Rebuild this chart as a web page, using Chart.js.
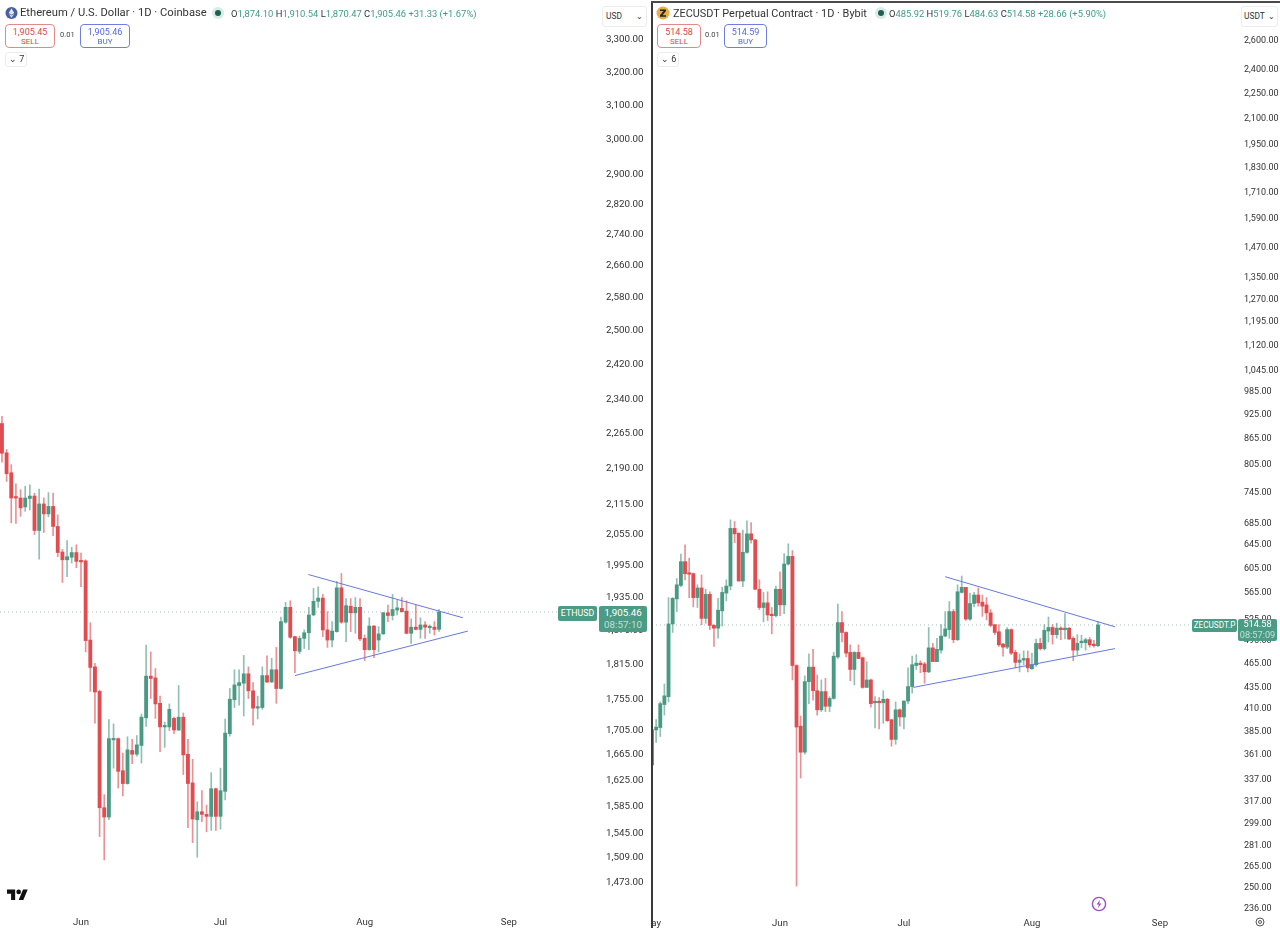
<!DOCTYPE html>
<html><head><meta charset="utf-8">
<script src="https://cdn.jsdelivr.net/npm/chart.js@4"></script>
<style>
html,body{margin:0;padding:0;background:#fff;width:1280px;height:928px;overflow:hidden;font-family:Roboto,Arial,sans-serif;color:#2e2e2e}
body{filter:blur(.35px)}
canvas{position:absolute;top:0}
.t{position:absolute;white-space:nowrap}
.box{position:absolute;box-sizing:border-box;border:1px solid;border-radius:4px;text-align:center;background:#fff}
.box b{display:block;font-weight:400;font-size:9px;line-height:10px;margin-top:2px}
.box i{display:block;font-style:normal;font-size:8px;line-height:9px}
.sell{border-color:#e08a8c;color:#d9474b}.buy{border-color:#6f7fe0;color:#5468dc}
.small{position:absolute;box-sizing:border-box;border:1px solid #ececec;border-radius:3px;font-size:9px;line-height:13px;background:#fff;color:#333}
.ohlc{font-size:9.4px;top:8px;color:#3f9c84}.ohlc span{color:#333}
.ttl{font-size:11.2px;top:6px;color:#333}
.dot{position:absolute;width:6px;height:6px;border-radius:50%;background:#1f5f52;box-shadow:0 0 0 3px #d8ece6}
.lab{position:absolute;background:#4c9b84;color:#fff;text-align:center;font-size:8.8px}
.lab2{position:absolute;background:#4c9b84;color:#fff;text-align:center;font-size:9.8px;line-height:12px;border-radius:2px}
.lab2 em{display:block;font-style:normal;color:#bfe0d6}
.frameV{position:absolute;left:651px;top:1px;width:2px;height:927px;background:#3a3a3a}
.frameH{position:absolute;left:651px;top:1px;width:629px;height:2px;background:#4a4a4a}
</style></head><body>
<canvas id="eth" width="651" height="928" style="left:0;width:651px;height:928px"></canvas>
<canvas id="zec" width="628" height="928" style="left:652px;width:628px;height:928px"></canvas>
<div class="frameV"></div><div class="frameH"></div>

<svg class="t" style="left:5px;top:6px" width="13" height="14" viewBox="0 0 14 14"><circle cx="7" cy="7" r="6.5" fill="#4a5f9e"/><path d="M7 2l3 5-3 1.8L4 7zM4 7.8L7 9.6l3-1.8-3 4.2z" fill="#dfe6f7"/></svg>
<div class="t ttl" style="left:20px">Ethereum / U.S. Dollar · 1D · Coinbase</div>
<div class="dot" style="left:215px;top:10px"></div>
<div class="t ohlc" style="left:231px"><span>O</span>1,874.10 <span>H</span>1,910.54 <span>L</span>1,870.47 <span>C</span>1,905.46 <span style="color:#3f9c84">+31.33 (+1.67%)</span></div>
<div class="box sell" style="left:5px;top:24px;width:50px;height:24px"><b>1,905.45</b><i>SELL</i></div>
<div class="t" style="left:60px;top:30px;font-size:7.5px;color:#444">0.01</div>
<div class="box buy" style="left:80px;top:24px;width:50px;height:24px"><b>1,905.46</b><i>BUY</i></div>
<div class="small" style="left:5px;top:52px;width:22px;height:15px;padding-left:3px">⌄ 7</div>
<div class="small" style="left:602px;top:6px;width:45px;height:21px;line-height:19px;padding-left:3px;font-size:8.4px">USD<span style="float:right;margin-right:3px">⌄</span></div>
<div class="lab" style="left:558px;top:606px;width:39px;height:15px;line-height:15px;border-radius:2px">ETHUSD</div>
<div class="lab2" style="left:599px;top:606px;width:48px;height:26px;padding-top:1px;box-sizing:border-box">1,905.46<em>08:57:10</em></div>
<svg class="t" style="left:7px;top:887px" width="21" height="15" viewBox="0 0 36 25"><path d="M14 22H7V11H0V4h14v18zM28 22h-8l7.5-18h8L28 22z" fill="#111"/><circle cx="20" cy="8" r="4" fill="#111"/></svg>

<svg class="t" style="left:656px;top:6px" width="14" height="14" viewBox="0 0 14 14"><circle cx="7" cy="7" r="6.5" fill="#e5b04a"/><path d="M4 3.5h6v1.4L6.4 9.3H10v1.4H4V9.3l3.6-4.4H4z" fill="#222"/></svg>
<div class="t ttl" style="left:673px;font-size:10.9px;top:7px">ZECUSDT Perpetual Contract · 1D · Bybit</div>
<div class="dot" style="left:878px;top:10px"></div>
<div class="t ohlc" style="left:889px"><span>O</span>485.92 <span>H</span>519.76 <span>L</span>484.63 <span>C</span>514.58 <span style="color:#3f9c84">+28.66 (+5.90%)</span></div>
<div class="box sell" style="left:657px;top:24px;width:44px;height:24px"><b>514.58</b><i>SELL</i></div>
<div class="t" style="left:705px;top:30px;font-size:7.5px;color:#444">0.01</div>
<div class="box buy" style="left:724px;top:24px;width:43px;height:24px"><b>514.59</b><i>BUY</i></div>
<div class="small" style="left:657px;top:52px;width:22px;height:15px;padding-left:3px">⌄ 6</div>
<div class="small" style="left:1241px;top:6px;width:37px;height:21px;line-height:19px;padding-left:2px;font-size:8.4px">USDT<span style="float:right;margin-right:2px">⌄</span></div>
<div class="lab" style="left:1192px;top:619px;width:45px;height:13px;line-height:13px;border-radius:2px;font-size:8.2px">ZECUSDT.P</div>
<div class="lab2" style="left:1238px;top:619px;width:39px;height:22px;font-size:9.2px;line-height:10.5px;box-sizing:border-box">514.58<em>08:57:09</em></div>
<svg class="t" style="left:1091px;top:896px" width="16" height="16" viewBox="0 0 16 16"><circle cx="8" cy="8" r="6.6" fill="none" stroke="#9b4fc4" stroke-width="1.4"/><path d="M9 3.8L5.6 8.6h2.2L7 12.2l3.4-4.8H8.2z" fill="#9b4fc4"/></svg>
<svg class="t" style="left:1255px;top:917px" width="10" height="10" viewBox="0 0 10 10"><circle cx="5" cy="5" r="4" fill="none" stroke="#555"/><circle cx="5" cy="5" r="1.5" fill="none" stroke="#555"/></svg>

<script>
const monthTicks = [-31, 0, 30, 61, 92];
const monthLabels = ['May', 'Jun', 'Jul', 'Aug', 'Sep'];

const ethTicks = [3300,3200,3100,3000,2900,2820,2740,2660,2580,2500,2420,2340,2265,2190,2115,2055,1995,1935,1875,1815,1755,1705,1665,1625,1585,1545,1509,1473];
const zecTicks = [2600,2400,2250,2100,1950,1830,1710,1590,1470,1350,1270,1195,1120,1045,985,925,865,805,745,685,645,605,565,525,495,465,435,410,385,361,337,317,299,281,265,250,236];

const ethOpen = [
2282,2219,2177,2127,2125,2107,2124,2129,2060,2113,
2093,2108,2068,2018,2003,2008,2017,2001,2001,1855,
1808,1766,1580,1566,1686,1688,1637,1617,1669,1663,
1677,1722,1792,1789,1746,1707,1707,1721,1702,1723,
1663,1618,1562,1574,1570,1567,1609,1567,1605,1696,
1752,1776,1780,1796,1767,1738,1739,1793,1782,1803,
1771,1887,1914,1861,1835,1858,1868,1900,1925,1931,
1873,1855,1870,1950,1887,1916,1904,1914,1858,1838,
1880,1855,1866,1904,1899,1909,1912,1907,1867,1878,
1874,1882,1877,1878,1874.10];
const ethHigh = [
2298,2226,2194,2154,2142,2149,2152,2135,2143,2125,
2136,2135,2091,2023,2040,2027,2032,2016,2003,1886,
1814,1768,1600,1719,1712,1689,1665,1691,1687,1693,
1728,1846,1834,1805,1758,1715,1745,1723,1776,1730,
1687,1655,1589,1606,1584,1634,1610,1641,1720,1771,
1803,1803,1828,1808,1781,1758,1808,1827,1823,1842,
1896,1923,1926,1862,1862,1873,1914,1949,1952,1938,
1906,1888,1962,1977,1930,1930,1932,1930,1864,1895,
1881,1879,1905,1918,1938,1927,1932,1926,1893,1918,
1895,1888,1882,1888,1910.54];
const ethLow = [
2199,2159,2075,2074,2088,2098,2101,2052,2004,2056,
2087,2050,2009,1960,1971,1997,1988,1952,1834,1766,
1713,1537,1503,1562,1641,1610,1598,1616,1648,1660,
1649,1708,1754,1721,1667,1674,1701,1696,1701,1631,
1550,1528,1507,1559,1544,1546,1546,1548,1592,1692,
1739,1743,1725,1754,1710,1720,1736,1781,1781,1746,
1770,1885,1858,1798,1831,1840,1838,1899,1914,1861,
1842,1843,1869,1885,1852,1870,1867,1854,1819,1837,
1824,1834,1865,1888,1891,1900,1905,1866,1849,1873,
1858,1858,1867,1864,1870.47];
const ethClose = [
2218,2175,2125,2125,2105,2125,2129,2060,2113,2093,
2108,2068,2017,2003,2009,2017,2000,1999,1854,1807,
1765,1580,1566,1688,1688,1636,1617,1670,1663,1678,
1723,1792,1788,1745,1707,1708,1736,1702,1723,1662,
1617,1563,1574,1570,1567,1609,1567,1606,1697,1753,
1777,1781,1796,1767,1738,1740,1793,1782,1803,1771,
1888,1914,1860,1836,1858,1868,1900,1925,1931,1873,
1855,1871,1950,1887,1917,1904,1914,1857,1838,1880,
1838,1866,1904,1899,1910,1913,1906,1867,1878,1874,
1882,1878,1878,1874,1905.46];

const zecOpen = [
349.5,385,387.5,413,422,516,553,574,613,594,
593,555,570,524,560,514,510,535,562,573,
672,663,581,629,662,651,568,540,547,529,
528,568,544,609,622,460,389,362,440,458,
429,407,428,411,420,471,518,504,477,455,
477,470,433,442,415,416,415,419,396,375,
407,399,417,434,460,463,462,452,483,465,
480,499,508,534,494,563,571,523,546,559,
548,544,532,515,505,488,484,508,477,464,
467,469,456,461,489,482,506,511,501,510,
508,510,496,480,490,490,494,488,485.92];
const zecHigh = [
394,396,416,437,555,555,585,626,642,619,
594,575,591,568,564,515,554,571,583,688,
685,664,669,686,683,652,583,563,564,540,
573,596,627,644,632,461,400,447,475,481,
448,442,444,422,477,545,534,505,487,478,
487,471,465,443,422,421,429,420,396,416,
408,417,457,472,474,466,464,511,489,496,
515,534,549,537,575,589,571,562,563,570,
559,555,537,515,515,489,511,509,480,475,
479,479,476,495,496,515,526,515,517,512,
531,511,498,501,500,496,497,493,519.76];
const zecLow = [
348,372,378,401,416,504,534,572,583,555,
541,540,515,517,508,485,496,513,550,567,
646,581,572,627,645,567,537,519,521,502,
526,528,531,607,442,250,337,360,414,418,
401,405,405,405,419,469,491,471,441,436,
469,432,433,410,387,386,392,394,368,370,
389,386,414,426,455,451,438,451,465,465,
476,498,496,490,493,562,521,521,541,542,
527,522,512,501,485,472,482,474,457,452,
461,452,455,459,480,480,491,488,496,494,
495,494,466,474,483,480,484,484,484.63];
const zecClose = [
385,388,414,423,516,554,575,613,593,592,
555,570,524,560,514,510,536,563,573,672,
662,581,629,662,651,568,540,547,529,528,
568,544,609,622,460,388,362,440,458,429,
407,428,411,420,472,518,504,476,455,477,
469,433,442,414,416,415,419,395,375,407,
399,417,434,461,463,461,452,483,465,481,
499,509,534,494,564,571,523,546,559,547,
542,532,514,504,487,484,508,476,464,467,
469,457,461,489,482,507,511,501,510,508,
510,495,480,489,491,494,487,486,514.58];

const ethUpperDays = [48.9, 82.1];
const ethUpperPrices = [1975, 1895];
const ethLowerDays = [46, 83.2];
const ethLowerPrices = [1793, 1871];
const zecUpperDays = [40, 81.1];
const zecUpperPrices = [588, 512];
const zecLowerDays = [32.3, 81.1];
const zecLowerPrices = [433, 482];

const GREEN = '#4a9a83', RED = '#e04c50';
const GREENW = 'rgba(74,154,131,.62)', REDW = 'rgba(224,76,80,.62)';
const TREND = '#6678de';

function pts(xs, ys){ return xs.map((x,i)=>({x, y:ys[i]})); }

function build(id, o, h, l, c, firstDay, ticks, range, xr, upper, lower, axisW, padR, font, xH, xPad){
  const days = o.map((_,i)=>firstDay+i);
  const up = o.map((v,i)=>c[i]>=v);
  const last = c[c.length-1];
  new Chart(document.getElementById(id), {
    type:'bar',
    data:{datasets:[
      {type:'line',data:pts(upper[0],upper[1]),borderColor:TREND,borderWidth:1,pointRadius:0,order:0},
      {type:'line',data:pts(lower[0],lower[1]),borderColor:TREND,borderWidth:1,pointRadius:0,order:0},
      {data:days.map((x,i)=>({x,y:[Math.min(o[i],c[i]),Math.max(o[i],c[i])]})),
       backgroundColor:up.map(u=>u?GREEN:RED),barThickness:3.2,minBarLength:1.5,grouped:false,order:1},
      {data:days.map((x,i)=>({x,y:[l[i],h[i]]})),
       backgroundColor:up.map(u=>u?GREENW:REDW),barThickness:1,grouped:false,order:2},
      {type:'line',data:pts(xr,[last,last]),borderColor:'#a9bdb7',borderWidth:1,borderDash:[1,3],pointRadius:0,order:3}
    ]},
    options:{
      responsive:false,animation:false,
      layout:{padding:0},
      plugins:{legend:{display:false},tooltip:{enabled:false}},
      scales:{
        x:{type:'linear',offset:false,min:xr[0],max:xr[1],
           grid:{display:false},border:{display:false},
           ticks:{autoSkip:false,maxRotation:0,minRotation:0,padding:xPad,color:'#333',
                  font:{family:'Roboto',size:9.6},
                  callback:v=>monthLabels[monthTicks.indexOf(v)]||''},
           afterBuildTicks:s=>{s.ticks=monthTicks.filter(v=>v>=xr[0]-1).map(value=>({value}));},
           afterFit:s=>{s.height=xH;s.paddingLeft=0;s.paddingRight=0;}},
        y:{type:'logarithmic',position:'right',min:range[0],max:range[1],
           grid:{display:false,drawTicks:false},border:{display:false},
           ticks:{autoSkip:false,crossAlign:'near',padding:padR,labelOffset:2,color:'#333',
                  font:{family:'Roboto',size:font},
                  callback:v=>Number(v).toLocaleString('en-US',{minimumFractionDigits:2,maximumFractionDigits:2})},
           afterBuildTicks:s=>{s.ticks=ticks.map(value=>({value}));},
           afterFit:s=>{s.width=axisW;s.paddingTop=0;s.paddingBottom=0;}}
      }
    }
  });
}

build('eth',ethOpen,ethHigh,ethLow,ethClose,-17,ethTicks,[1439.6,3422.2],[-17.42,111.61],
      [ethUpperDays,ethUpperPrices],[ethLowerDays,ethLowerPrices],51,6,9.8,23,4);
build('zec',zecOpen,zecHigh,zecLow,zecClose,-31,zecTicks,[234,2896],[-31,110.9],
      [zecUpperDays,zecUpperPrices],[zecLowerDays,zecLowerPrices],42,6,9,18,0);
</script>
</body></html>
